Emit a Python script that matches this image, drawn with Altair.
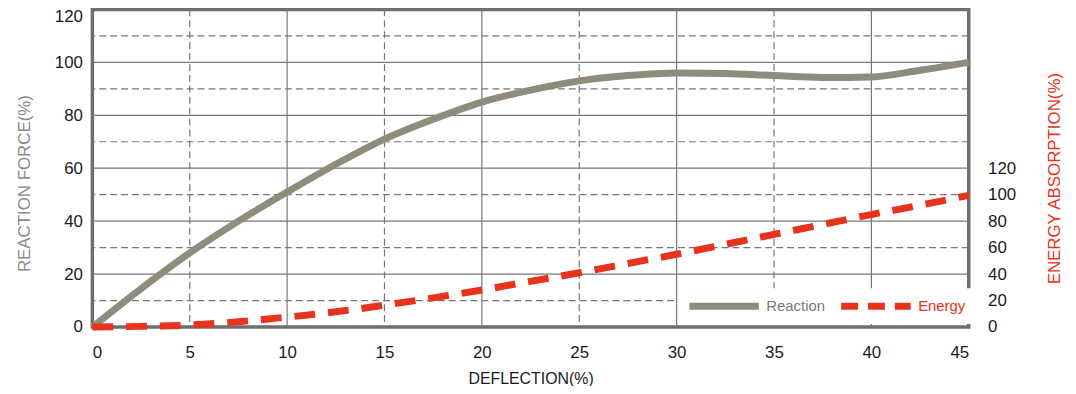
import altair as alt
import pandas as pd

# ---- data ----
deflection = [0, 2.5, 5, 7.5, 10, 12.5, 15, 17.5, 20, 22.5, 25, 27.5, 30, 32.5, 35, 37.5, 40, 42.5, 45]
reaction = [0, 14.5, 28, 40, 51, 61.5, 71, 78.5, 85, 89.5, 93, 95, 96, 95.8, 95, 94.3, 94.5, 97, 100]
energy = [0, 0.5, 1.5, 4, 7.5, 11.5, 16.5, 22, 28, 34.5, 41, 48, 55, 62.5, 70, 77.5, 85, 92, 99.5]

x_ticks = [0, 5, 10, 15, 20, 25, 30, 35, 40, 45]
left_ticks = [0, 20, 40, 60, 80, 100, 120]
right_ticks = [0, 20, 40, 60, 80, 100, 120]
grid_x_solid = [10, 20, 30, 40]
grid_x_dashed = [5, 15, 25, 35]
grid_y_solid = [20, 40, 60, 80, 100]
grid_y_dashed = [10, 30, 50, 70, 90, 110]

series_names = ["Reaction", "Energy"]
series_colors = ["#908c7d", "#e7321c"]

FONT = "Liberation Sans"
GRID = "#777777"
TICK = "#1a1a1a"

df_r = pd.DataFrame({"x": deflection, "y": reaction, "series": "Reaction"})
df_e = pd.DataFrame({"x": deflection, "y": energy, "series": "Energy"})

xscale = alt.Scale(domain=[0, 45], nice=False, zero=False)
yscale = alt.Scale(domain=[0, 120], nice=False)
escale = alt.Scale(domain=[0, 240], nice=False)

legend = alt.Legend(
    orient="none", legendX=590, legendY=281, direction="horizontal", title=None,
    fillColor="white", padding=8, symbolType="stroke", symbolSize=4900,
    symbolStrokeWidth=7, clipHeight=20, labelFont=FONT, labelFontSize=15, labelOffset=4,
    columnPadding=12,
    symbolDash={"expr": "datum.label === 'Energy' ? [17, 10] : [1, 0]"},
    labelColor={"expr": "datum.label === 'Energy' ? '#e7321c' : '#7a7a7a'"},
)
color = alt.Color("series:N", scale=alt.Scale(domain=series_names, range=series_colors), legend=legend)

gxs = alt.Chart(pd.DataFrame({"v": grid_x_solid})).mark_rule(color=GRID, strokeWidth=1.2).encode(
    x=alt.X("v:Q", scale=xscale))
gxd = alt.Chart(pd.DataFrame({"v": grid_x_dashed})).mark_rule(color=GRID, strokeWidth=1.2, strokeDash=[7, 4]).encode(
    x=alt.X("v:Q", scale=xscale))
gys = alt.Chart(pd.DataFrame({"v": grid_y_solid})).mark_rule(color=GRID, strokeWidth=1.2).encode(
    y=alt.Y("v:Q", scale=yscale))
gyd = alt.Chart(pd.DataFrame({"v": grid_y_dashed})).mark_rule(color=GRID, strokeWidth=1.2, strokeDash=[7, 4]).encode(
    y=alt.Y("v:Q", scale=yscale))

reaction_line = alt.Chart(df_r).mark_line(strokeWidth=7, interpolate="monotone").encode(
    x=alt.X("x:Q", scale=xscale, axis=alt.Axis(
        values=x_ticks, title="DEFLECTION(%)", grid=False, domain=False, ticks=False,
        labelFont=FONT, labelFontSize=17, labelColor=TICK, labelPadding=18,
        titleFont=FONT, titleFontSize=16, titleFontWeight="normal", titleColor=TICK,
        titlePadding=10)),
    y=alt.Y("y:Q", scale=yscale, axis=alt.Axis(
        values=left_ticks, title="REACTION FORCE(%)", grid=False, domain=False, ticks=False,
        labelFont=FONT, labelFontSize=17, labelColor=TICK, labelPadding=10,
        labelBaseline={"expr": "datum.value == 120 ? 'top' : 'middle'"},
        labelOffset={"expr": "datum.value == 120 ? -1 : 0"},
        titleFont=FONT, titleFontSize=17, titleFontWeight="normal", titleColor="#8a8a8a",
        titlePadding=21, titleY=175)),
    color=color,
)

energy_line = alt.Chart(df_e).mark_line(strokeWidth=7, interpolate="monotone", strokeDash=[21, 13]).encode(
    x=alt.X("x:Q", scale=xscale),
    y=alt.Y("y:Q", scale=escale, axis=alt.Axis(
        orient="right", values=right_ticks, title="ENERGY ABSORPTION(%)", grid=False,
        domain=False, ticks=False, labelFont=FONT, labelFontSize=17, labelColor=TICK,
        labelPadding=19, titleFont=FONT, titleFontSize=17, titleFontWeight="normal",
        titleColor="#e7321c", titleAngle=270, titlePadding=48, titleY=170)),
    color=color,
)

base = alt.layer(gxs, gxd, gys, gyd, reaction_line)
chart = alt.layer(base, energy_line).resolve_scale(y="independent").properties(
    width=883, height=320,
    autosize=alt.AutoSizeParams(type="none"),
    padding={"left": 85, "top": 0, "right": 100, "bottom": 58},
).configure_view(stroke="#6e6e6e", strokeWidth=3.5)

chart.save("out.html", embed_options={"renderer": "svg", "actions": False})
